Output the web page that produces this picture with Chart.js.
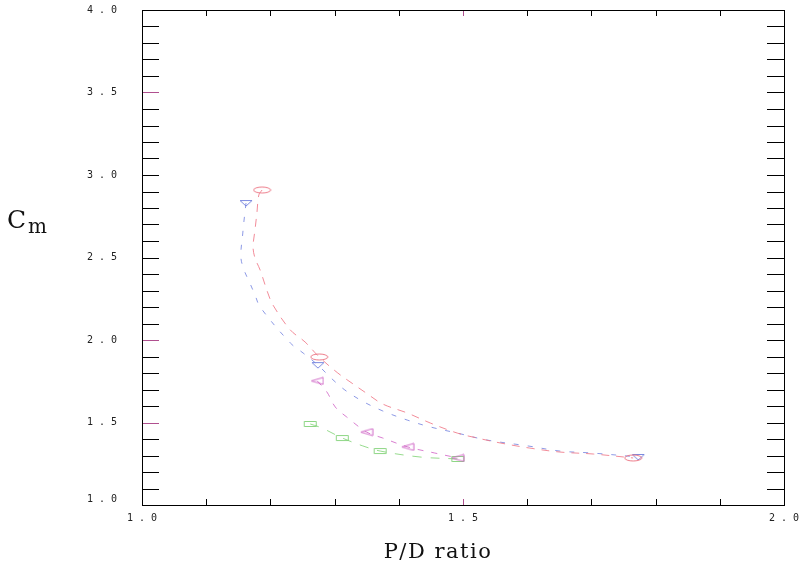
<!DOCTYPE html>
<html>
<head>
<meta charset="utf-8">
<script src="https://cdn.jsdelivr.net/npm/chart.js@4"></script>
<style>
  html, body { margin: 0; padding: 0; background: #fff; }
  #wrap { width: 803px; height: 566px; }
</style>
</head>
<body>
<div id="wrap"><canvas id="myChart1" width="803" height="566"></canvas></div>
<script>

// curve: P/D ratio (x) and Cm (y)
let redPD  = [1.187, 1.182, 1.179, 1.176, 1.173, 1.176, 1.184, 1.196, 1.204, 1.231, 1.254, 1.276, 1.305, 1.329, 1.349, 1.375, 1.413, 1.449, 1.491, 1.522, 1.558, 1.604, 1.651, 1.703, 1.765];
let redCm  = [2.909, 2.879, 2.770, 2.667, 2.564, 2.497, 2.424, 2.285, 2.212, 2.061, 1.988, 1.897, 1.800, 1.733, 1.679, 1.612, 1.558, 1.497, 1.436, 1.406, 1.376, 1.345, 1.321, 1.309, 1.285];
let redMarks = [0, 11, 24];

let bluePD = [1.162, 1.159, 1.157, 1.154, 1.159, 1.168, 1.176, 1.184, 1.231, 1.251, 1.274, 1.296, 1.316, 1.343, 1.375, 1.413, 1.449, 1.491, 1.537, 1.601, 1.651, 1.701, 1.773];
let blueCm = [2.830, 2.727, 2.648, 2.503, 2.424, 2.345, 2.273, 2.200, 1.982, 1.921, 1.848, 1.764, 1.697, 1.630, 1.570, 1.515, 1.473, 1.436, 1.394, 1.358, 1.327, 1.315, 1.291];
let blueMarks = [0, 10, 22];

let magPD  = [1.273, 1.288, 1.301, 1.319, 1.350, 1.375, 1.414, 1.456, 1.492];
let magCm  = [1.752, 1.685, 1.594, 1.533, 1.442, 1.406, 1.352, 1.315, 1.285];
let magMarks = [0, 4, 6, 8];

let greenPD = [1.262, 1.280, 1.312, 1.344, 1.371, 1.433, 1.492];
let greenCm = [1.491, 1.467, 1.406, 1.358, 1.327, 1.291, 1.279];
let greenMarks = [0, 2, 4, 6];

let xTickLabels = [1.0, 1.5, 2.0];
let yTickLabels = [1.0, 1.5, 2.0, 2.5, 3.0, 3.5, 4.0];


function marker(w, h, color, draw) {
  let c = document.createElement('canvas');
  c.width = w; c.height = h;
  let g = c.getContext('2d');
  g.strokeStyle = color;
  g.lineWidth = 1;
  g.beginPath();
  draw(g, w, h);
  g.stroke();
  return c;
}

let ellipse = marker(19, 8, 'rgba(235,110,125,0.9)', (g, w, h) => g.ellipse(w / 2, h / 2, w / 2 - 1, h / 2 - 1, 0, 0, Math.PI * 2));
let triDown = marker(14, 8, 'rgba(110,125,220,0.9)', (g, w, h) => { g.moveTo(1, 1.5); g.lineTo(w - 1, 1.5); g.lineTo(w / 2, h - 1); g.closePath(); });
let triLeft = marker(14, 9, 'rgba(205,95,195,0.9)', (g, w, h) => { g.moveTo(w - 1, 1); g.lineTo(w - 1, h - 1); g.lineTo(1, h / 2); g.closePath(); });
let box = marker(15, 8, 'rgba(130,210,120,0.9)', (g, w, h) => g.rect(1.5, 1.5, w - 3, h - 3));

function series(label, xs, ys, marks, color, dash, style) {
  return {
    label: label,
    data: xs.map((v, i) => ({ x: v, y: ys[i] })),
    showLine: true,
    borderColor: color,
    borderWidth: 1,
    borderDash: dash,
    tension: 0.35,
    pointStyle: style,
    pointRadius: ctx => marks.includes(ctx.dataIndex) ? 4 : 0,
    pointHoverRadius: 0
  };
}

function spaced(v) {
  return v.toFixed(1).split('').join(' ');
}

function isLabel(list, v) {
  return list.some(t => Math.abs(t - v) < 1e-6);
}

// frame, inward ticks and the two axis titles
let frame = {
  id: 'frame',
  beforeDatasetsDraw(chart) {
    let ctx = chart.ctx;
    let a = chart.chartArea;
    let x = chart.scales.x;
    let y = chart.scales.y;
    ctx.save();
    ctx.lineWidth = 1;
    y.ticks.forEach(t => {
      let py = Math.round(y.getPixelForValue(t.value)) + 0.5;
      let major = isLabel([1.5, 2.0, 3.5], t.value);
      ctx.strokeStyle = major ? '#b0508f' : '#000';
      ctx.beginPath();
      ctx.moveTo(a.left, py); ctx.lineTo(a.left + 17, py);
      ctx.stroke();
      ctx.strokeStyle = '#000';
      ctx.beginPath();
      ctx.moveTo(a.right - 17, py); ctx.lineTo(a.right, py);
      ctx.stroke();
    });
    x.ticks.forEach(t => {
      let px = Math.round(x.getPixelForValue(t.value)) + 0.5;
      ctx.strokeStyle = isLabel([1.5], t.value) ? '#b0508f' : '#000';
      ctx.beginPath();
      ctx.moveTo(px, a.bottom); ctx.lineTo(px, a.bottom - 6);
      ctx.moveTo(px, a.top); ctx.lineTo(px, a.top + 6);
      ctx.stroke();
    });
    ctx.strokeStyle = '#000';
    ctx.strokeRect(Math.round(a.left) + 0.5, Math.round(a.top) + 0.5, Math.round(a.right - a.left), Math.round(a.bottom - a.top));

    ctx.fillStyle = '#111';
    ctx.textBaseline = 'alphabetic';
    ctx.font = '25px "DejaVu Serif"';
    ctx.fillText('C', 7, 228);
    ctx.font = '20px "DejaVu Serif"';
    ctx.fillText('m', 28, 233);
    ctx.font = '21px "DejaVu Serif"';
    ctx.letterSpacing = '1.5px';
    ctx.textAlign = 'center';
    ctx.fillText('P/D ratio', 438, 558);
    ctx.letterSpacing = '0px';
    ctx.restore();
  }
};

let myChart1 = document.getElementById('myChart1').getContext('2d');

let chart1 = new Chart(myChart1, {
  type: 'scatter',
  data: {
    datasets: [
      series('a', redPD, redCm, redMarks, 'rgba(240,120,135,0.85)', [8, 7], ellipse),
      series('b', bluePD, blueCm, blueMarks, 'rgba(120,135,225,0.85)', [5, 9], triDown),
      series('c', magPD, magCm, magMarks, 'rgba(210,105,200,0.85)', [6, 8], triLeft),
      series('d', greenPD, greenCm, greenMarks, 'rgba(140,215,130,0.9)', [9, 9], box)
    ]
  },
  options: {
    responsive: false,
    animation: false,
    layout: { padding: { top: 10, right: 19, left: 0, bottom: 0 } },
    plugins: {
      legend: { display: false },
      tooltip: { enabled: false }
    },
    scales: {
      x: {
        type: 'linear',
        min: 1.0,
        max: 2.0,
        border: { display: false },
        grid: { display: false, drawTicks: false },
        ticks: {
          stepSize: 0.1,
          autoSkip: false,
          maxRotation: 0,
          padding: 7,
          color: '#222',
          font: { family: '"DejaVu Sans Mono"', size: 10 },
          callback: v => isLabel(xTickLabels, v) ? spaced(v) : ''
        },
        afterFit: s => { s.height = 61; s.paddingLeft = 0; s.paddingRight = 0; }
      },
      y: {
        type: 'linear',
        min: 1.0,
        max: 4.0,
        border: { display: false },
        grid: { display: false, drawTicks: false },
        ticks: {
          stepSize: 0.1,
          autoSkip: false,
          padding: 25,
          color: '#222',
          font: { family: '"DejaVu Sans Mono"', size: 10 },
          callback: v => {
            if (!isLabel(yTickLabels, v)) return '';
            if (Math.abs(v - 1) < 1e-6) return [spaced(v), ''];
            return spaced(v);
          }
        },
        afterFit: s => { s.width = 142; s.paddingTop = 0; s.paddingBottom = 0; }
      }
    }
  },
  plugins: [frame]
});

</script>
</body>
</html>
